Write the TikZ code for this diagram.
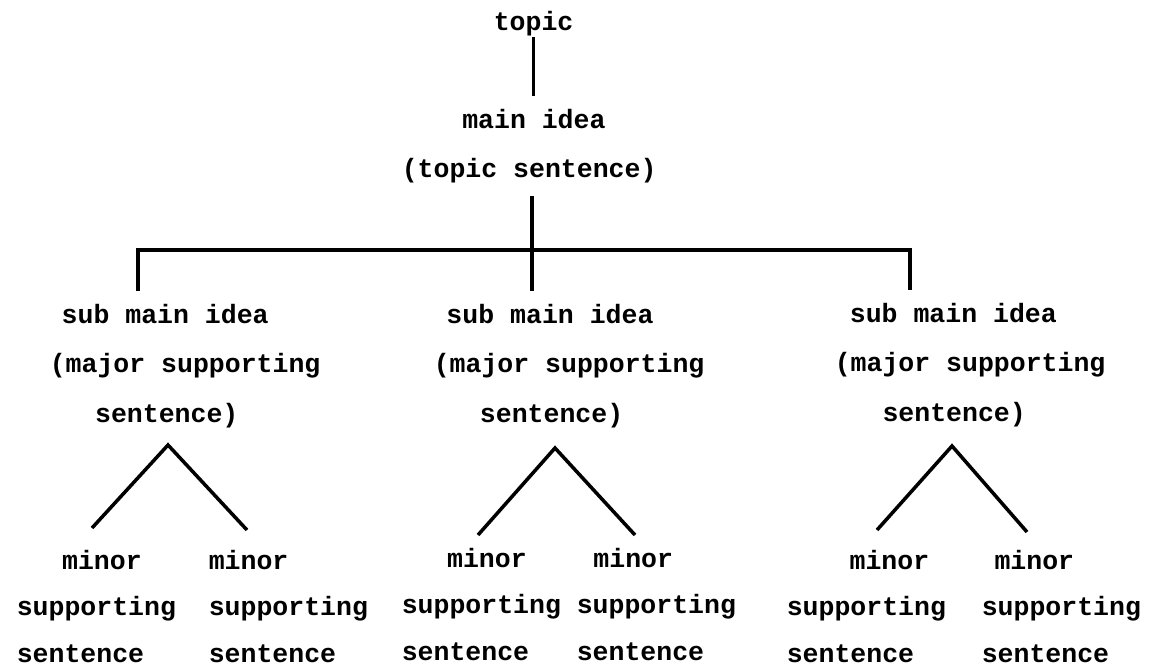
\documentclass[tikz,border=0pt]{standalone}
\usepackage{fontspec}
\setmonofont{Liberation Mono}
\newcommand\chars[1]{\hspace*{#1\dimexpr0.6em\relax}}
\newcommand\twfont[1]{\ttfamily\bfseries\fontsize{15.1}{#1}\selectfont}

\begin{document}
\begin{tikzpicture}[x=0.02cm, y=-0.02cm, line width=2pt,
  every node/.style={font={\twfont{28.4}},
    inner xsep=0pt, inner ysep=6pt, anchor=base west, align=left,
    execute at begin node={\spaceskip0.6em\relax}},
  idea/.style={text width=165pt},
  leaf/.style={text width=100pt, font={\twfont{26.7}}}]

\useasboundingbox (0,0) rectangle (1155,670);

\node (topic) at (492,30) [inner ysep=0pt] {topic};
\node (main) at (400,128) [text width=148pt] {\chars{3.8}main idea\\(topic sentence)};

\node (s1) at (48,323) [idea] {\chars{0.75}sub main idea\\(major supporting\\\chars{2.85}sentence)};
\node (s2) at (432,323) [idea] {\chars{0.8}sub main idea\\(major supporting\\\chars{2.9}sentence)};
\node (s3) at (833,322) [idea] {\chars{0.95}sub main idea\\(major supporting\\\chars{3}sentence)};

\node (l11) at (15,569) [leaf] {\chars{2.85}minor\\supporting\\sentence};
\node (l12) at (207,569) [leaf] {minor\\supporting\\sentence};
\node (l21) at (400,567) [leaf] {\chars{2.85}minor\\supporting\\sentence};
\node (l22) at (575,567) [leaf] {\chars{1.05}minor\\supporting\\sentence};
\node (l31) at (785,569) [leaf] {\chars{3.95}minor\\supporting\\sentence};
\node (l32) at (980,569) [leaf] {\chars{0.8}minor\\supporting\\sentence};

\coordinate (jl) at (138,250);
\coordinate (jr) at (910,250);

\draw (topic.south) -- (topic.south |- main.north);
\draw (main.south) -- (main.south |- s2.north);
\draw (jl |- s1.north) -- (jl) -- (jr) -- (jr |- s3.north);

% branches under each sub main idea
\coordinate (a1) at (168,445);
\coordinate (a2) at (555,448);
\coordinate (a3) at (952,446);

\draw (92,528) coordinate (e11) -- (a1) -- (247,530) coordinate (e12);
\draw (478,535) coordinate (e21) -- (a2) -- (635,535) coordinate (e22);
\draw (877,530) coordinate (e31) -- (a3) -- (1027,532) coordinate (e32);

\end{tikzpicture}
\end{document}
